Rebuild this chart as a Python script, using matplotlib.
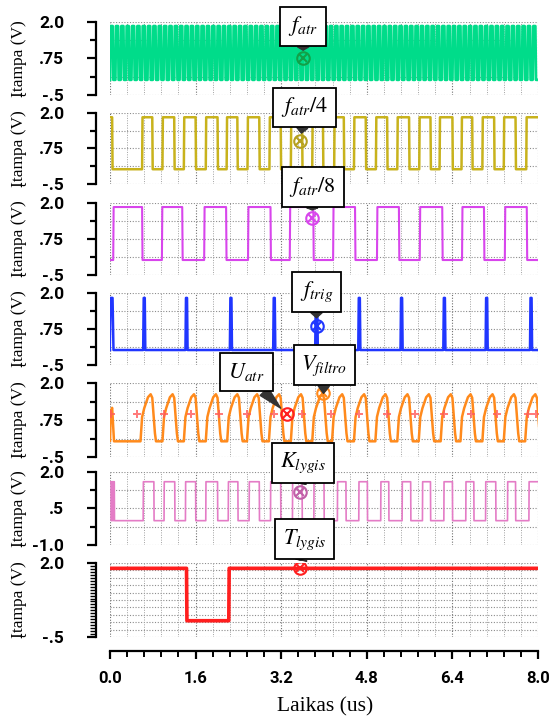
import numpy as np
import matplotlib.pyplot as plt
from matplotlib.ticker import MultipleLocator, FixedLocator

plt.rcParams['mathtext.fontset'] = 'stix'
plt.rcParams['font.family'] = ['Roboto', 'DejaVu Sans']

# --- data (time in us, voltage in V) ---
fatr_rises = [0.0, 0.1, 0.2, 0.3, 0.4, 0.5, 0.6, 0.7, 0.8, 0.9,
              1.0, 1.1, 1.2, 1.3, 1.4, 1.5, 1.6, 1.7, 1.8, 1.9,
              2.0, 2.1, 2.2, 2.3, 2.4, 2.5, 2.6, 2.7, 2.8, 2.9,
              3.0, 3.1, 3.2, 3.3, 3.4, 3.5, 3.6, 3.7, 3.8, 3.9,
              4.0, 4.1, 4.2, 4.3, 4.4, 4.5, 4.6, 4.7, 4.8, 4.9,
              5.0, 5.1, 5.2, 5.3, 5.4, 5.5, 5.6, 5.7, 5.8, 5.9,
              6.0, 6.1, 6.2, 6.3, 6.4, 6.5, 6.6, 6.7, 6.8, 6.9,
              7.0, 7.1, 7.2, 7.3, 7.4, 7.5, 7.6, 7.7, 7.8, 7.9]
fatr_width = 0.05
fatr_levels = (0.02, 1.86)

# toggle times, first level given by *_start_high
fatr4_edges = [0.04, 0.60, 0.79, 0.98, 1.20, 1.38, 1.60, 1.79, 2.01, 2.18,
               2.38, 2.57, 2.79, 2.98, 3.19, 3.38, 3.59, 3.78, 3.98, 4.19,
               4.37, 4.56, 4.78, 4.97, 5.18, 5.37, 5.59, 5.78, 5.99, 6.16,
               6.40, 6.57, 6.77, 6.96, 7.18, 7.36, 7.58, 7.78]
fatr4_start_high = True
fatr4_levels = (0.02, 1.85)

fatr8_edges = [0.06, 0.60, 0.97, 1.35, 1.76, 2.17, 2.58, 3.00, 3.36, 3.80,
               4.17, 4.58, 4.99, 5.40, 5.79, 6.21, 6.58, 6.99, 7.38, 7.79]
fatr8_start_high = False
fatr8_levels = (0.02, 1.86)

trig_times = [0.03, 0.64, 1.43, 2.26, 3.07, 3.86, 4.66, 5.45, 6.25, 7.04, 7.87]
trig_widths = [0.07, 0.04, 0.04, 0.04, 0.04, 0.05, 0.04, 0.04, 0.04, 0.04, 0.04]
trig_levels = (0.02, 1.83)

uatr_start_t = [0.0, 0.015, 0.04, 0.075]
uatr_start_v = [0.05, 1.05, 1.16, 0.03]
uatr_peaks = [0.76, 1.17, 1.57, 1.98, 2.38, 2.75, 3.16, 3.57, 3.97, 4.34,
              4.75, 5.15, 5.56, 5.96, 6.37, 6.74, 7.15, 7.55, 7.95]
uatr_low, uatr_knee, uatr_top = 0.03, 1.15, 1.62
uatr_marks_t = [0.01, 0.51, 1.01, 1.51, 2.04, 2.57, 3.07, 3.59, 4.13,
                4.66, 5.18, 5.71, 6.24, 6.75, 7.24, 7.81, 7.97]
uatr_mark_v = 0.95

klyg_edges = [0.02, 0.03, 0.05, 0.06, 0.08,
              0.62, 0.82, 1.01, 1.21, 1.41, 1.60, 1.79, 2.01, 2.21, 2.39,
              2.60, 2.79, 3.00, 3.19, 3.41, 3.59, 3.81, 4.00, 4.25, 4.41,
              4.65, 4.81, 5.06, 5.21, 5.46, 5.62, 5.84, 5.99, 6.24, 6.40,
              6.65, 6.80, 7.02, 7.21, 7.43, 7.58, 7.83]
klyg_start_high = True
klyg_levels = (0.0, 1.6)

tlyg_edges = [1.43, 2.22]
tlyg_start_high = True
tlyg_levels = (0.05, 1.82)

# markers: panel, label, t, v
note_panel = [0, 1, 2, 3, 4, 4, 5, 6]
note_label = [r'$f_{atr}$', r'$f_{atr}/4$', r'$f_{atr}/8$', r'$f_{trig}$',
              r'$U_{atr}$', r'$V_{filtro}$', r'$K_{lygis}$', r'$T_{lygis}$']
note_t = [3.61, 3.56, 3.77, 3.86, 3.30, 3.99, 3.55, 3.55]
note_v = [0.75, 1.00, 1.47, 0.85, 0.95, 1.65, 1.19, 1.82]


def square(edges, levels, start_high, rise=0.008):
    lo, hi = levels
    level = start_high
    ts, vs = [0.0], [hi if level else lo]
    for e in edges:
        ts += [e, e + rise]
        vs += [hi if level else lo, lo if level else hi]
        level = not level
    ts.append(8.0)
    vs.append(hi if level else lo)
    return ts, vs


# f_atr edges from rises + width
fatr_edges = []
for r in fatr_rises:
    fatr_edges += [r, r + fatr_width]
fatr_t, fatr_v = square(fatr_edges, fatr_levels, False, rise=0.012)
f4_t, f4_v = square(fatr4_edges, fatr4_levels, fatr4_start_high)
f8_t, f8_v = square(fatr8_edges, fatr8_levels, fatr8_start_high)
k_t, k_v = square(klyg_edges, klyg_levels, klyg_start_high, rise=0.004)
tl_t, tl_v = square(tlyg_edges, tlyg_levels, tlyg_start_high)

tr_t, tr_v = [0.0], [trig_levels[0]]
for s, w in zip(trig_times, trig_widths):
    tr_t += [s - w / 2, s - w / 4, s + w / 4, s + w / 2]
    tr_v += [trig_levels[0], trig_levels[1], trig_levels[1], trig_levels[0]]
tr_t.append(8.0)
tr_v.append(trig_levels[0])

u_t, u_v = list(uatr_start_t), list(uatr_start_v)
for p in uatr_peaks:
    u_t += [p - 0.19, p - 0.16, p - 0.12, p - 0.05, p, p + 0.03, p + 0.08, p + 0.1]
    u_v += [uatr_low, 0.85, uatr_knee, 1.52, uatr_top, 1.5, 0.3, uatr_low]

# --- layout ---
W, H = 552, 718
fig = plt.figure(figsize=(W / 100, H / 100), dpi=100)
panels_px = [(22, 95), (113, 184), (203, 275), (293, 365), (383, 457), (472, 545), (563, 637)]
axes = []
for top, bot in panels_px:
    ax = fig.add_axes([110 / W, 1 - bot / H, 428 / W, (bot - top) / H])
    ax.set_facecolor('none')
    axes.append(ax)

series = [
    (fatr_t, fatr_v, '#00dc8a', 2.0),
    (f4_t, f4_v, '#c8b21c', 1.8),
    (f8_t, f8_v, '#d845ec', 1.5),
    (tr_t, tr_v, '#2036ff', 1.8),
    (u_t, u_v, '#ff8a1c', 1.8),
    (k_t, k_v, '#e47cc6', 1.2),
    (tl_t, tl_v, '#ff1e1e', 2.6),
]
ylims = [(-0.5, 2.0)] * 5 + [(-1.0, 2.0), (-0.5, 2.0)]

for i, ax in enumerate(axes):
    t, v, col, lw = series[i]
    ax.plot(t, v, color=col, lw=lw, solid_joinstyle='round')
    ax.set_xlim(0, 8.0)
    ax.set_ylim(*ylims[i])
    for s in ['top', 'right', 'bottom']:
        ax.spines[s].set_visible(False)
    ax.spines['left'].set_position(('outward', 10))
    ax.spines['left'].set_linewidth(1.6)
    ax.xaxis.set_major_locator(MultipleLocator(1.6))
    ax.xaxis.set_minor_locator(MultipleLocator(0.32))
    ax.grid(which='major', axis='x', color='#707070', ls=(0, (1, 1.5)), lw=0.8)
    ax.grid(which='minor', axis='x', color='#a0a0a0', ls=(0, (1, 1.5)), lw=0.7)
    lo, hi = ylims[i]
    mid = (lo + hi) / 2
    if i < 6:
        ax.yaxis.set_major_locator(FixedLocator([lo, mid, hi]))
        ax.yaxis.set_minor_locator(FixedLocator([(lo + mid) / 2, (mid + hi) / 2]))
        if i == 5:
            ax.set_yticklabels(['-1.0', '.5', '2.0'])
        else:
            ax.set_yticklabels(['-.5', '.75', '2.0'])
        ax.grid(which='both', axis='y', color='#8c8c8c', ls=(0, (1, 1.5)), lw=0.8)
        ax.tick_params(axis='x', which='both', length=0, labelbottom=False)
    else:
        ax.yaxis.set_major_locator(FixedLocator([lo, hi]))
        ax.yaxis.set_minor_locator(MultipleLocator(0.1))
        ax.set_yticklabels(['-.5', '2.0'])
        for yy in np.arange(lo, hi + 0.01, 0.25):
            ax.axhline(yy, color='#8c8c8c', ls=(0, (1, 1.5)), lw=0.8, zorder=0)
        ax.spines['bottom'].set_visible(True)
        ax.spines['bottom'].set_position(('outward', 10))
        ax.spines['bottom'].set_linewidth(1.6)
        ax.set_xticks([0.0, 1.6, 3.2, 4.8, 6.4, 8.0])
        ax.set_xticklabels(['0.0', '1.6', '3.2', '4.8', '6.4', '8.0'])
        ax.tick_params(axis='x', which='major', direction='out', length=5.5, width=1.6,
                       pad=9, labelsize=12)
        ax.tick_params(axis='x', which='minor', direction='out', length=4, width=1.4)
        for lbl in ax.get_xticklabels():
            lbl.set_fontweight('bold')
    ax.tick_params(axis='y', which='major', direction='out', length=6.5, width=1.6,
                   pad=16.5, labelsize=12.5)
    ax.tick_params(axis='y', which='minor', direction='out', length=4, width=1.6)
    if i == 6:
        ax.tick_params(axis='y', which='minor', length=4.5, width=1.0)
    for lbl in ax.get_yticklabels():
        lbl.set_fontweight('bold')
    top, bot = panels_px[i]
    fig.text(19 / W, 1 - (top + bot) / 2 / H, 'Įtampa (V)', rotation=90,
             ha='center', va='center', family='Liberation Serif', fontsize=12.5)

# threshold marks on U_atr
axes[4].plot(uatr_marks_t, [uatr_mark_v] * len(uatr_marks_t), 'P', ms=6,
             color='#ff5a5a', alpha=0.8, mew=0, zorder=4)

fig.text(325 / W, 1 - 707 / H, 'Laikas (us)', ha='center', va='center',
         family='Liberation Serif', fontsize=15.5)

# callouts
note_color = ['#12a048', '#b5a020', '#d845ec', '#2036ff', '#ff2020', '#ff8a1c', '#c060a8', '#ff2020']
note_offset = [(0, 32), (4, 34), (1, 31), (0, 34), (-40, 42), (1, 28), (3, 29), (5, 29)]
note_rel = [(0.5, 0.5)] * 4 + [(0.75, 0.0)] + [(0.5, 0.5)] * 3
for k in range(len(note_label)):
    ax = axes[note_panel[k]]
    col = note_color[k]
    ax.plot(note_t[k], note_v[k], 'o', ms=9, mfc='none', mec=col, mew=1.5, zorder=6)
    ax.plot(note_t[k], note_v[k], 'x', ms=5.5, mec=col, mew=1.5, zorder=6)
    ax.annotate(note_label[k], (note_t[k], note_v[k]), xytext=note_offset[k],
                textcoords='offset pixels', ha='center', va='center', fontsize=16,
                bbox=dict(boxstyle='square,pad=0.35', fc='white', ec='black', lw=1.3),
                arrowprops=dict(arrowstyle='wedge,tail_width=0.5', fc='#333333',
                                ec='#333333', shrinkA=0, shrinkB=6, relpos=note_rel[k]),
                zorder=10, annotation_clip=False)

fig.savefig('out.png', dpi=100)
